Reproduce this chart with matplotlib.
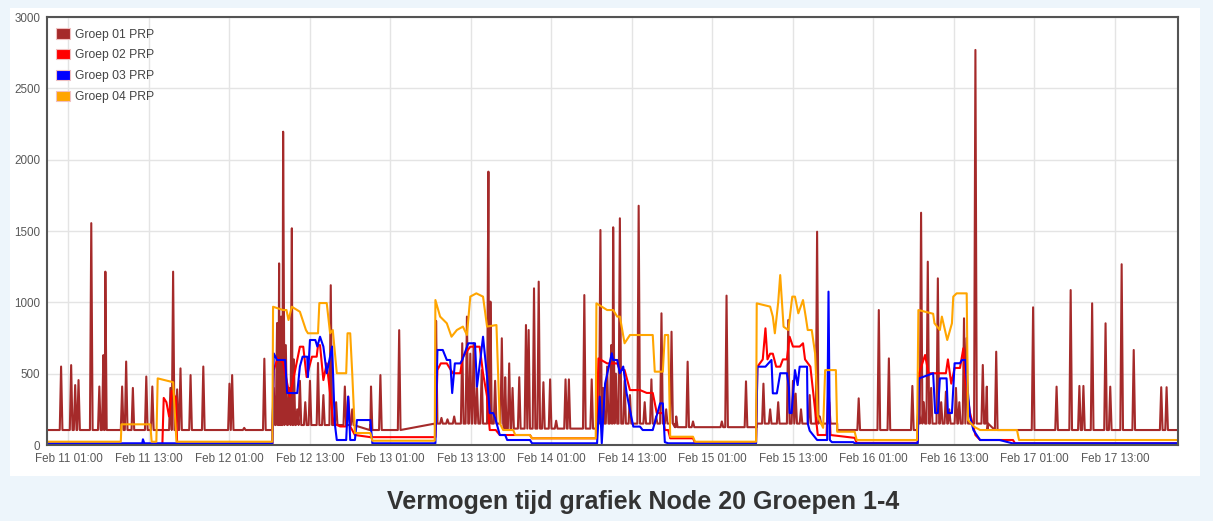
import matplotlib
matplotlib.use('Agg')
import numpy as np
import pandas as pd
import matplotlib.pyplot as plt
import matplotlib.dates as mdates
from matplotlib.patches import Patch, Rectangle

plt.rcParams['font.family'] = ['Liberation Sans', 'DejaVu Sans']

# time is hours after Feb 11 00:00
start = pd.Timestamp('2019-02-11 00:00')
x_min, x_max = -2.2, 166.4
tick_hours = list(range(1, 158, 12))

labels = ['Groep 01 PRP', 'Groep 02 PRP', 'Groep 03 PRP', 'Groep 04 PRP']
colors = ['#a52a2a', '#ff0000', '#0000ff', '#ffa500']

# Groep 01: base level per period + short spikes
g1_base = [(-2.2, 105), (31.4, 140), (46.0, 105), (55.7, 150), (66.0, 115), (79.8, 150),
           (91.5, 125), (103.6, 150), (115.6, 105), (127.5, 150), (138.0, 105)]
g1_spikes = [(-0.1, 550), (1.4, 560), (2.0, 420), (2.5, 455), (4.4, 1555), (5.6, 410), (6.2, 630),
             (6.5, 1215), (9.0, 410), (9.6, 585), (10.6, 400), (12.6, 480), (13.5, 410), (16.2, 400),
             (16.6, 1215), (17.2, 390), (17.7, 537), (19.2, 490), (21.1, 550), (25.0, 430), (25.4, 490),
             (27.2, 120), (30.2, 605),
             (31.6, 400), (32.1, 855), (32.4, 1273), (32.7, 900), (33.0, 2196), (33.4, 700), (33.9, 400),
             (34.3, 1519), (34.6, 600), (35.1, 250), (35.5, 450), (36.3, 300), (37.0, 450), (38.2, 575),
             (39.0, 350), (40.1, 1120), (40.9, 300), (42.2, 410), (43.3, 250),
             (46.1, 410), (47.5, 490), (50.3, 805),
             (55.8, 870), (56.6, 190), (57.5, 180), (58.5, 200), (59.7, 713), (60.4, 900), (60.9, 640),
             (61.4, 713), (61.9, 400), (62.6, 525), (63.6, 1916), (63.9, 1005), (64.6, 450), (65.6, 748),
             (66.1, 475), (66.7, 572), (67.2, 400), (68.2, 475), (69.2, 841), (69.6, 806), (70.4, 1098),
             (71.1, 1145), (71.8, 440), (72.8, 460), (73.7, 170), (75.1, 460), (75.6, 460), (77.9, 1051),
             (79.0, 460),
             (80.3, 1507), (80.7, 400), (81.3, 550), (81.9, 700), (82.2, 1526), (82.6, 500), (83.2, 1589),
             (83.9, 450), (84.7, 350), (86.0, 1677), (86.9, 300), (87.9, 460), (88.6, 200), (89.4, 923),
             (90.1, 250), (90.9, 794), (91.6, 200),
             (93.3, 584), (94.1, 165), (98.4, 165), (99.1, 1047), (102.0, 446),
             (104.6, 430), (105.6, 250), (106.8, 300), (108.3, 876), (109.0, 450), (109.4, 360),
             (110.2, 250), (111.5, 350), (112.6, 1495), (113.0, 200), (114.4, 300),
             (118.8, 327), (121.8, 946), (123.3, 607), (126.8, 414),
             (127.7, 250), (128.1, 1628), (128.5, 300), (129.1, 1285), (129.6, 400), (130.6, 1168),
             (131.1, 300), (131.8, 374), (132.3, 250), (133.3, 400), (133.8, 300), (134.5, 888),
             (134.9, 750), (136.2, 2769), (137.3, 561), (137.9, 409), (139.3, 654),
             (144.8, 965), (148.3, 409), (150.4, 1086), (151.7, 414), (152.3, 414), (153.6, 993),
             (155.6, 853), (156.3, 409), (158.0, 1267), (159.8, 666), (163.9, 405), (164.7, 405)]

g2 = [(-2.2, 5), (15.0, 5), (15.2, 330), (15.6, 300), (16.0, 200), (16.4, 380), (17.0, 330), (17.2, 5),
      (31.4, 5), (31.6, 526), (32.2, 610), (33.0, 575), (34.0, 339), (35.5, 689), (36.0, 689), (36.5, 476),
      (37.3, 619), (38.0, 619), (38.2, 700), (38.5, 700), (39.0, 455), (39.5, 572), (40.5, 152), (41.5, 130),
      (42.4, 130), (42.7, 339), (43.0, 130), (43.7, 70), (46.0, 55), (55.7, 55), (56.0, 526), (56.5, 572),
      (57.4, 572), (58.3, 503), (59.4, 503), (59.8, 619), (60.9, 689), (62.3, 689), (62.8, 503), (63.4, 339),
      (63.8, 105), (64.7, 105), (65.3, 70), (69.8, 70), (70.1, 47), (79.7, 47), (80.0, 607), (81.3, 572),
      (82.8, 572), (83.2, 526), (83.9, 526), (84.7, 385), (86.2, 385), (87.2, 365), (88.1, 365), (88.7, 224),
      (89.6, 224), (89.9, 105), (90.4, 105), (90.7, 47), (94.1, 47), (94.4, 15), (103.5, 15), (103.7, 549),
      (104.5, 600), (104.9, 818), (105.2, 600), (105.6, 640), (106.0, 640), (106.5, 549), (107.1, 549),
      (107.5, 600), (108.1, 600), (108.5, 759), (109.0, 690), (110.0, 690), (110.5, 713), (110.8, 600),
      (111.6, 549), (112.3, 245), (112.7, 70), (114.0, 70), (114.3, 420), (114.6, 70), (118.2, 50),
      (118.5, 15), (127.6, 15), (127.8, 503), (128.7, 631), (129.2, 503), (131.8, 503), (132.1, 600),
      (132.6, 430), (133.1, 540), (133.9, 540), (134.4, 678), (134.7, 450), (135.4, 224), (136.2, 70),
      (136.9, 35), (141.8, 35), (142.1, 12), (166.4, 12)]

g3 = [(-2.2, 12), (12.0, 12), (12.1, 40), (12.3, 12), (31.4, 12), (31.6, 642), (32.1, 596), (33.3, 596),
      (33.6, 364), (35.1, 364), (35.5, 550), (35.9, 619), (36.6, 619), (36.7, 476), (37.0, 736), (37.8, 736),
      (38.1, 690), (38.5, 759), (39.0, 690), (39.5, 503), (40.3, 690), (40.7, 152), (41.0, 35), (42.4, 35),
      (42.7, 339), (43.0, 35), (43.7, 35), (44.0, 175), (46.0, 175), (46.3, 12), (55.7, 12), (56.0, 666),
      (56.8, 666), (57.4, 596), (57.9, 596), (58.2, 364), (58.6, 572), (59.4, 572), (59.7, 596), (60.6, 713),
      (61.6, 713), (61.9, 409), (62.4, 600), (62.8, 759), (63.4, 480), (63.8, 224), (64.3, 224), (64.6, 190),
      (65.3, 70), (66.1, 70), (66.4, 35), (69.8, 35), (70.1, 12), (79.8, 12), (80.2, 339), (80.5, 12),
      (81.0, 432), (82.0, 643), (82.2, 596), (82.8, 596), (83.2, 503), (83.7, 550), (84.2, 364), (85.2, 129),
      (86.2, 129), (86.6, 105), (88.1, 105), (89.2, 292), (89.6, 292), (89.9, 20), (90.4, 12), (103.5, 12),
      (103.7, 549), (104.9, 549), (105.8, 596), (106.0, 362), (106.6, 362), (107.1, 503), (108.1, 503),
      (108.4, 400), (108.5, 224), (108.8, 224), (109.3, 525), (109.7, 420), (110.0, 549), (111.1, 549),
      (111.2, 152), (111.5, 100), (112.6, 35), (114.1, 35), (114.3, 1075), (114.5, 35), (114.8, 20),
      (118.0, 20), (118.2, 12), (127.6, 12), (127.8, 467), (129.9, 503), (130.2, 224), (130.6, 224),
      (130.9, 467), (131.9, 467), (132.1, 224), (132.7, 224), (133.1, 573), (133.9, 573), (134.2, 596),
      (134.7, 596), (134.9, 467), (135.4, 200), (135.9, 105), (136.9, 35), (139.8, 35), (141.7, 12),
      (166.4, 12)]

g4 = [(-2.2, 23), (8.8, 23), (8.9, 145), (13.2, 145), (13.4, 23), (14.1, 23), (14.3, 467), (16.6, 440),
      (17.1, 23), (31.4, 23), (31.5, 969), (33.0, 946), (33.5, 946), (33.8, 876), (34.3, 969), (35.5, 934),
      (36.4, 806), (36.7, 783), (38.2, 783), (38.4, 995), (39.5, 995), (40.0, 783), (40.4, 806), (41.0, 503),
      (42.4, 503), (42.6, 783), (43.0, 783), (43.3, 503), (43.7, 84), (46.0, 84), (46.3, 30), (55.6, 30),
      (55.7, 1016), (56.4, 900), (57.4, 853), (58.1, 759), (58.9, 806), (59.8, 830), (60.4, 771),
      (60.9, 1040), (61.8, 1063), (62.8, 1040), (63.4, 830), (64.8, 841), (65.3, 152), (65.8, 105),
      (67.3, 105), (67.6, 70), (69.8, 70), (70.1, 47), (79.6, 47), (79.7, 993), (81.3, 946), (82.2, 946),
      (82.8, 900), (83.2, 900), (83.9, 713), (84.7, 771), (88.1, 771), (88.4, 514), (89.6, 514), (89.9, 771),
      (90.4, 771), (90.7, 58), (94.1, 58), (94.4, 23), (103.5, 23), (103.6, 993), (105.6, 970), (106.0, 900),
      (106.3, 783), (106.8, 1000), (107.1, 1191), (107.6, 829), (108.3, 806), (108.9, 1040), (109.3, 1040),
      (109.8, 923), (110.5, 1016), (110.9, 900), (111.2, 806), (111.8, 806), (112.3, 643), (112.7, 200),
      (113.5, 120), (113.8, 525), (115.4, 525), (115.6, 93), (118.2, 93), (118.5, 35), (127.5, 35),
      (127.7, 946), (129.9, 920), (130.1, 853), (130.9, 806), (131.2, 900), (132.0, 736), (132.7, 853),
      (132.9, 1040), (133.4, 1063), (134.9, 1063), (135.1, 175), (136.0, 128), (136.9, 105), (142.4, 105),
      (142.7, 35), (166.4, 35)]


def base_at(t):
    level = g1_base[0][1]
    for bt, bv in g1_base:
        if bt <= t:
            level = bv
    return level


# build the Groep 01 line from the base levels and spike peaks
pts = [(bt, bv) for bt, bv in g1_base] + [(x_max, g1_base[-1][1])]
for bt, bv in g1_base[1:]:
    pts.append((bt - 0.01, base_at(bt - 0.02)))
for t, v in g1_spikes:
    b = base_at(t)
    pts += [(t - 0.2, b), (t, v), (t + 0.2, b)]
pts.sort()


def to_dates(hours):
    return start + pd.to_timedelta(np.array(hours), unit='h')


fig = plt.figure(figsize=(12.13, 5.21), dpi=100)
fig.patch.set_facecolor('#edf5fb')
fig.patches.append(Rectangle((10 / 1213, 45 / 521), 1190 / 1213, 468 / 521,
                             transform=fig.transFigure, facecolor='white', edgecolor='none', zorder=-5))

ax = fig.add_axes([47 / 1213, 76 / 521, 1131 / 1213, 428 / 521])
ax.set_zorder(2)

series = [pts, g2, g3, g4]
for data, c in zip(series, colors):
    t, v = zip(*data)
    ax.plot(to_dates(t), v, color=c, lw=1.5, solid_joinstyle='round')

ax.set_xlim(to_dates([x_min])[0], to_dates([x_max])[0])
ax.set_ylim(0, 3000)
ax.set_yticks(range(0, 3001, 500))
ax.set_xticks(to_dates(tick_hours))
ax.xaxis.set_major_formatter(mdates.DateFormatter('%b %d %H:%M'))
ax.grid(True, color='#e4e4e4', lw=1)
ax.set_axisbelow(True)
ax.tick_params(length=0, labelsize=8.4, labelcolor='#595959', pad=6)
ax.tick_params(axis='y', pad=5)
for s in ax.spines.values():
    s.set_color('#545454')
    s.set_linewidth(1.5)

handles = [Patch(facecolor=c, edgecolor='#f0c0c0', lw=0.8) for c in colors]
leg = ax.legend(handles, labels, loc='upper left', bbox_to_anchor=(0.003, 0.988), frameon=False,
                fontsize=8.7, handlelength=1.15, handleheight=0.95, handletextpad=0.35,
                labelspacing=0.7, borderaxespad=0.3, borderpad=0.2)
for txt in leg.get_texts():
    txt.set_color('#444444')

fig.text(643 / 1213, 19 / 521, 'Vermogen tijd grafiek Node 20 Groepen 1-4',
         ha='center', va='center', fontsize=18, fontweight='bold', color='#333333')

fig.savefig('out.png', dpi=100, facecolor=fig.get_facecolor())
